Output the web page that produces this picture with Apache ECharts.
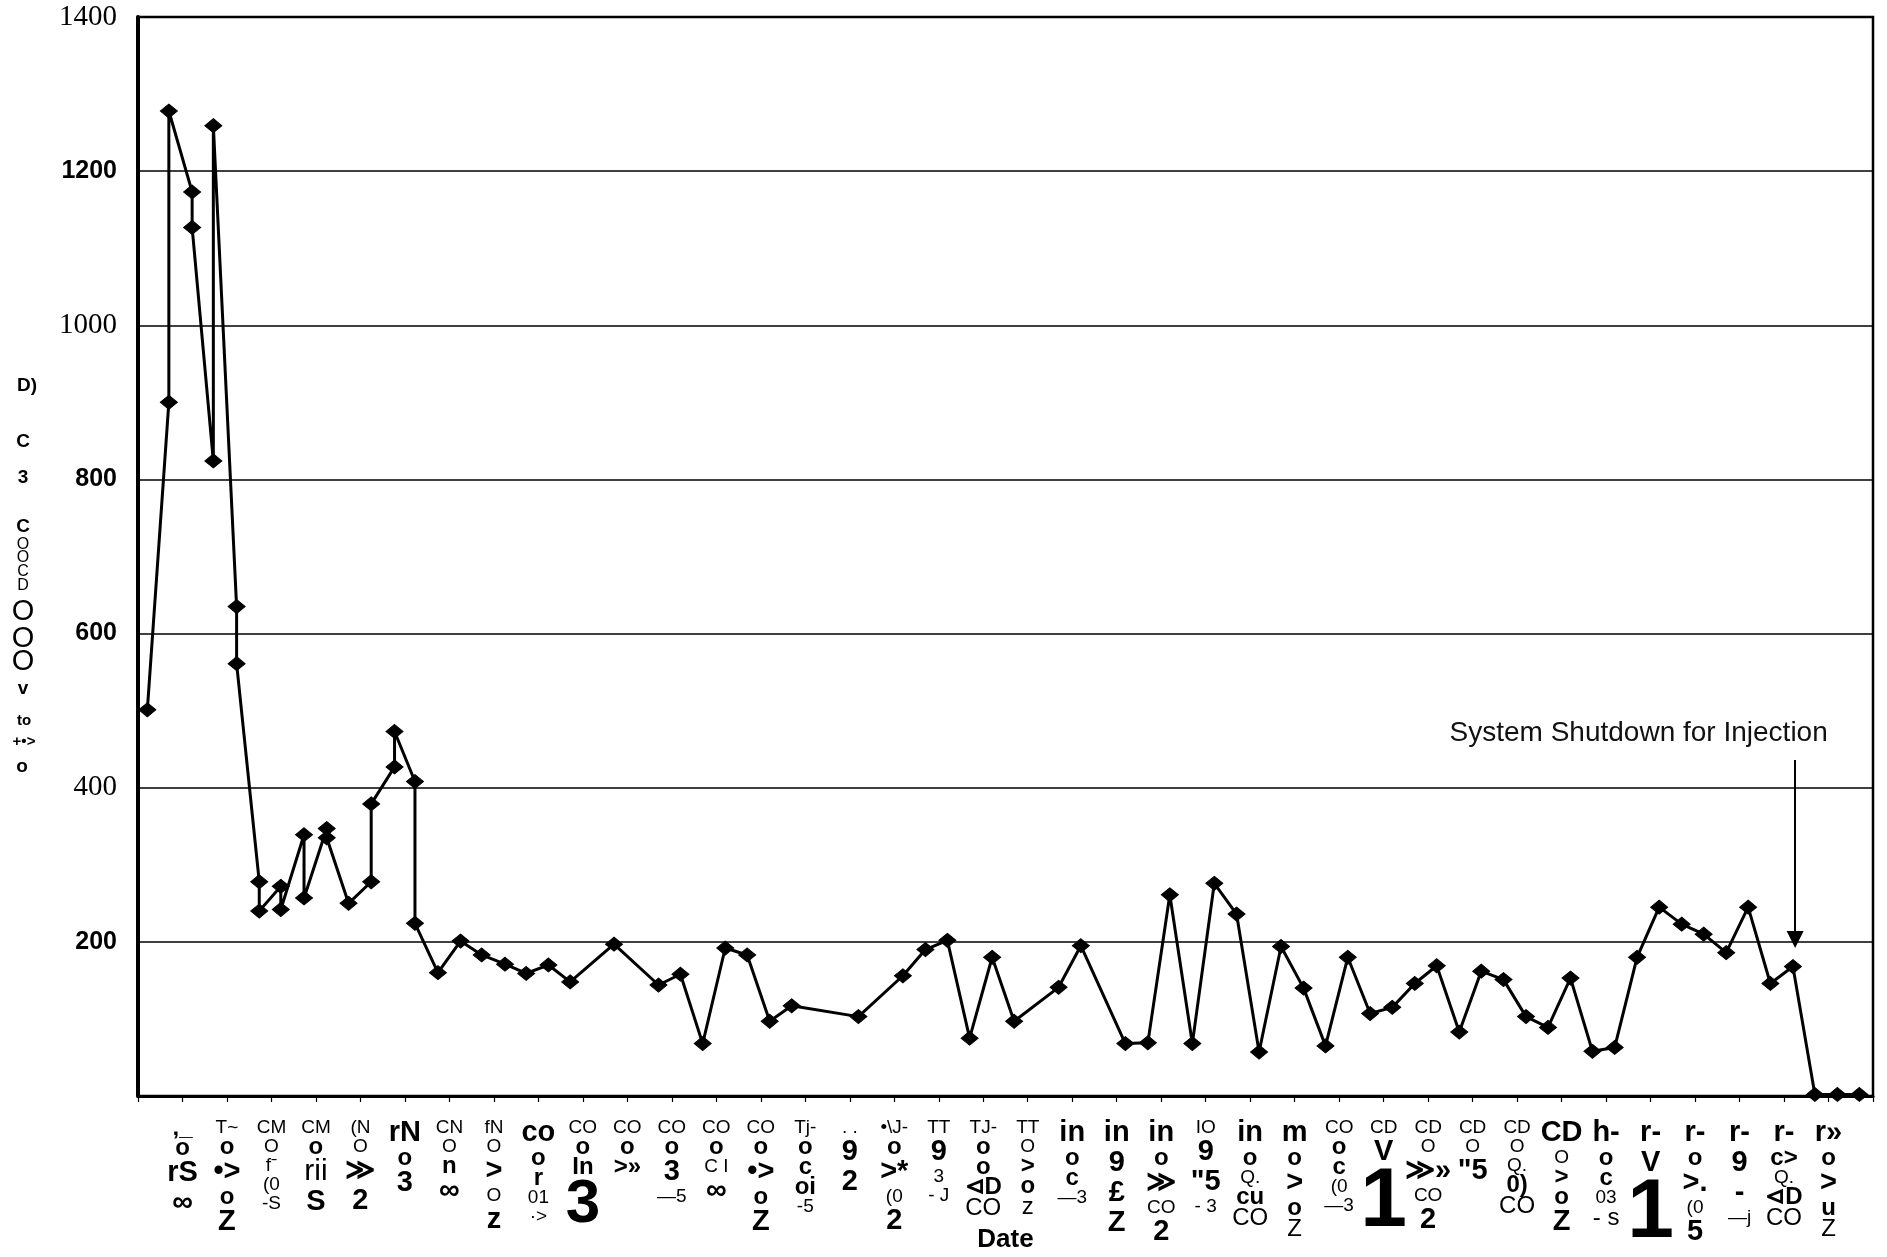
<!DOCTYPE html>
<html>
<head>
<meta charset="utf-8">
<script src="https://cdn.jsdelivr.net/npm/echarts@6/dist/echarts.min.js"></script>
<style>
  html, body { margin: 0; padding: 0; background: #fff; }
  #chart { width: 1887px; height: 1257px; }
</style>
</head>
<body>
<div id="chart"></div>
<script>
// Sampling dates (several dates were sampled twice) and measured concentrations
const sampleDates = [
  '2001-07-14', '2001-08-13', '2001-08-13', '2001-09-14', '2001-09-14',
  '2001-10-13', '2001-10-13', '2001-11-14', '2001-11-14', '2001-12-15',
  '2001-12-15', '2002-01-14', '2002-01-14', '2002-02-14', '2002-02-14',
  '2002-03-16', '2002-03-16', '2002-04-15', '2002-05-16', '2002-05-16',
  '2002-06-17', '2002-06-17', '2002-07-15', '2002-07-15', '2002-08-16',
  '2002-09-16', '2002-10-15', '2002-11-16', '2002-12-15', '2003-01-15',
  '2003-02-13', '2003-04-13', '2003-06-13', '2003-07-13', '2003-08-13',
  '2003-09-13', '2003-10-13', '2003-11-13', '2003-12-13', '2004-03-13',
  '2004-05-13', '2004-06-13', '2004-07-13', '2004-08-13', '2004-09-13',
  '2004-10-13', '2004-12-13', '2005-01-13', '2005-03-13', '2005-04-13',
  '2005-05-13', '2005-06-13', '2005-07-13', '2005-08-13', '2005-09-13',
  '2005-10-13', '2005-11-13', '2005-12-13', '2006-01-13', '2006-02-12',
  '2006-03-13', '2006-04-13', '2006-05-13', '2006-06-13', '2006-07-13',
  '2006-08-13', '2006-09-13', '2006-10-13', '2006-11-13', '2006-12-13',
  '2007-01-13', '2007-02-12', '2007-03-13', '2007-04-13', '2007-05-13',
  '2007-06-13', '2007-07-13', '2007-08-13', '2007-09-13', '2007-10-13',
  '2007-11-13', '2007-12-13'
];
const concentration = [
  501, 900, 1278, 1173, 1127,
  824, 1259, 635, 561, 278,
  240, 272, 242, 339, 257,
  347, 335, 250, 278, 379,
  427, 473, 408, 224, 160,
  201, 183, 171, 159, 170,
  148, 197, 144, 158, 68,
  192, 183, 97, 117, 103,
  156, 190, 202, 75, 180,
  97, 141, 195, 68, 69,
  261, 68, 276, 236, 57,
  194, 140, 65, 180, 107,
  115, 146, 169, 83, 162,
  151, 103, 89, 153, 58,
  63, 180, 245, 223, 210,
  186, 245, 146, 168, 2,
  2, 2
];

// Y axis ticks and the face each printed label uses
const yTickValues = [200, 400, 600, 800, 1000, 1200, 1400];
const yTickFaces  = ['sans', 'serif', 'sans', 'sans', 'serif', 'sans', 'serif'];

// X axis: months counted from Jul 2001, a tick every two months up to Jan 2008
const axisStartYear = 2001;
const axisStartMonth = 7;
const axisMonths = 78;
const tickStep = 2;

// Printed label stacks under the ticks (Sep-01 ... Nov-07), one [text, face] per line
const xTickLabels = [
  [[',_', 'b'], ['o', 'b'], ['rS', 'B'], ['\u221e', 'B']],
  [['T~', 's'], ['o', 'b'], ['\u2022>', 'B'], ['o', 'b'], ['Z', 'B']],
  [['CM', 's'], ['O', 's'], ['f\u02c9', 's'], ['(0', 's'], ['-S', 's']],
  [['CM', 's'], ['o', 'b'], ['rii', 'L'], ['S', 'B']],
  [['(N', 's'], ['O', 's'], ['\u226b', 'B'], ['2', 'B']],
  [['rN', 'B'], ['o', 'b'], ['3', 'B']],
  [['CN', 's'], ['O', 's'], ['n', 'b'], ['\u221e', 'B']],
  [['fN', 's'], ['O', 's'], ['>', 'B'], ['O', 's'], ['z', 'B']],
  [['co', 'B'], ['o', 'b'], ['r', 'b'], ['01', 's'], ['\u00b7>', 's']],
  [['CO', 's'], ['o', 'b'], ['In', 'b'], ['3', 'H']],
  [['CO', 's'], ['o', 'b'], ['>\u00bb', 'b']],
  [['CO', 's'], ['o', 'b'], ['3', 'B'], ['\u20145', 's']],
  [['CO', 's'], ['o', 'b'], ['C I', 's'], ['\u221e', 'B']],
  [['CO', 's'], ['o', 'b'], ['\u2022>', 'B'], ['o', 'b'], ['Z', 'B']],
  [['Tj-', 's'], ['o', 'b'], ['c', 'b'], ['oi', 'b'], ['-5', 's']],
  [['. .', 's'], ['9', 'B'], ['2', 'B']],
  [['\u2022\\J-', 's'], ['o', 'b'], ['>*', 'B'], ['(0', 's'], ['2', 'B']],
  [['TT', 's'], ['9', 'B'], ['3', 's'], ['- J', 's']],
  [['TJ-', 's'], ['o', 'b'], ['o', 'b'], ['\u22b2D', 'b'], ['CO', 'c']],
  [['TT', 's'], ['O', 's'], ['>', 'b'], ['o', 'b'], ['z', 'c']],
  [['in', 'B'], ['o', 'b'], ['c', 'b'], ['\u20143', 's']],
  [['in', 'B'], ['9', 'B'], ['\u00a3', 'B'], ['Z', 'B']],
  [['in', 'B'], ['o', 'b'], ['\u226b', 'B'], ['CO', 's'], ['2', 'B']],
  [['IO', 's'], ['9', 'B'], ['"5', 'B'], ['- 3', 's']],
  [['in', 'B'], ['o', 'b'], ['Q.', 's'], ['cu', 'b'], ['CO', 'c']],
  [['m', 'B'], ['o', 'b'], ['>', 'B'], ['o', 'b'], ['Z', 'c']],
  [['CO', 's'], ['o', 'b'], ['c', 'b'], ['(0', 's'], ['\u20143', 's']],
  [['CD', 's'], ['V', 'B'], ['1', 'X']],
  [['CD', 's'], ['O', 's'], ['\u226b\u00bb', 'B'], ['CO', 's'], ['2', 'B']],
  [['CD', 's'], ['O', 's'], ['"5', 'B']],
  [['CD', 's'], ['O', 's'], ['Q.', 's'], ['0)', 'b'], ['CO', 'c']],
  [['CD', 'B'], ['O', 's'], ['>', 'b'], ['o', 'b'], ['Z', 'B']],
  [['h-', 'B'], ['o', 'b'], ['c', 'b'], ['03', 's'], ['- s', 'c']],
  [['r-', 'B'], ['V', 'B'], ['1', 'X']],
  [['r-', 'B'], ['o', 'b'], ['>.', 'B'], ['(0', 's'], ['5', 'B']],
  [['r-', 'B'], ['9', 'B'], ['-', 'B'], ['\u2014j', 's']],
  [['r-', 'B'], ['c>', 'b'], ['Q.', 's'], ['\u22b2D', 'b'], ['CO', 'c']],
  [['r\u00bb', 'B'], ['o', 'b'], ['>', 'B'], ['u', 'b'], ['Z', 'c']]
];

// Stacked axis title printed beside the y axis: [text, face, x, y]
const yTitleParts = [
  ['D)', 'tb', 27, 386],
  ['C', 'tb', 23, 442],
  ['3', 'tb', 23, 478],
  ['C', 'tb', 23, 527],
  ['O', 'ts', 23, 545],
  ['O', 'ts', 23, 558],
  ['C', 'ts', 23, 572],
  ['D', 'ts', 23, 586],
  ['O', 'tl', 23, 612],
  ['O', 'tl', 23, 639],
  ['O', 'tl', 23, 662],
  ['v', 'tb', 23, 689],
  ['to', 'tm', 24, 721],
  ['+\u2022>', 'tm', 24, 742],
  ['o', 'tb', 22, 767]
];

// Annotation marking the injection shutdown
const shutdownNote = 'System Shutdown for Injection';
const shutdownDate = '2007-09-16';
const shutdownArrowFrom = 436;
const shutdownArrowTo = 203;
const noteAnchor = ['2007-02-14', 471];

function monthsFromStart(dateStr) {
  const [y, m, d] = dateStr.split('-').map(Number);
  const daysInMonth = new Date(y, m, 0).getDate();
  return (y - axisStartYear) * 12 + (m - axisStartMonth) + (d - 1) / daysInMonth;
}

const seriesData = sampleDates.map((d, i) => [monthsFromStart(d), concentration[i]]);

const SANS = '"Liberation Sans", Arial, Helvetica, sans-serif';
const SERIF = '"Liberation Serif", "Times New Roman", serif';

const xRich = {
  s: { fontFamily: SANS, fontSize: 19, fontWeight: 'normal', lineHeight: 19, color: '#000' },
  c: { fontFamily: SANS, fontSize: 24, fontWeight: 'normal', lineHeight: 22, color: '#000' },
  b: { fontFamily: SANS, fontSize: 24, fontWeight: 'bold', lineHeight: 20, color: '#000' },
  B: { fontFamily: SANS, fontSize: 29, fontWeight: 'bold', lineHeight: 30, color: '#000' },
  L: { fontFamily: SANS, fontSize: 30, fontWeight: 'normal', lineHeight: 30, color: '#000' },
  H: { fontFamily: SANS, fontSize: 62, fontWeight: 'bold', lineHeight: 56, color: '#000' },
  X: { fontFamily: SANS, fontSize: 84, fontWeight: 'bold', lineHeight: 72, color: '#000' }
};

const yFaceStyle = {
  sans:  { fontFamily: SANS, fontSize: 25, fontWeight: 'bold', color: '#000' },
  serif: { fontFamily: SERIF, fontSize: 29, fontWeight: 'normal', color: '#000' }
};

const titleFace = {
  tb: { fontFamily: SANS, fontSize: 19, fontWeight: 'bold' },
  tm: { fontFamily: SANS, fontSize: 15, fontWeight: 'bold' },
  ts: { fontFamily: SANS, fontSize: 16, fontWeight: 'normal' },
  tl: { fontFamily: SANS, fontSize: 29, fontWeight: 'normal' }
};

const chart = echarts.init(document.getElementById('chart'), null, { renderer: 'canvas' });

chart.setOption({
  backgroundColor: '#fff',
  animation: false,
  grid: {
    left: 138, right: 14, top: 17, bottom: 161,
    show: true, borderColor: '#000', borderWidth: 2.5,
    containLabel: false,
    outerBoundsMode: 'none'
  },
  xAxis: {
    type: 'value',
    min: 0,
    max: axisMonths,
    interval: tickStep,
    name: 'Date',
    nameLocation: 'middle',
    nameGap: 131,
    nameMoveOverlap: false,
    nameTextStyle: { fontFamily: SANS, fontSize: 26, fontWeight: 'bold', color: '#000' },
    axisLine: { show: true, onZero: false, lineStyle: { color: '#000', width: 3 } },
    axisTick: { show: true, inside: false, length: 6, lineStyle: { color: '#000', width: 1.2 } },
    splitLine: { show: false },
    axisLabel: {
      show: true,
      margin: 22,
      verticalAlign: 'top',
      align: 'center',
      rich: xRich,
      formatter: function (v) {
        const idx = Math.round(v / tickStep) - 1;
        const stack = xTickLabels[idx];
        if (!stack) return '';
        return stack.map(([t, f]) => '{' + f + '|' + t + '}').join('\n');
      }
    }
  },
  yAxis: {
    type: 'value',
    min: 0,
    max: 1400,
    interval: 200,
    axisLine: { show: true, lineStyle: { color: '#000', width: 4 } },
    axisTick: { show: false },
    splitLine: { show: true, lineStyle: { color: '#000', width: 1.5 } },
    axisLabel: {
      margin: 21,
      rich: yFaceStyle,
      formatter: function (v) {
        const i = yTickValues.indexOf(v);
        if (i < 0) return '';
        return '{' + yTickFaces[i] + '|' + v + '}';
      }
    }
  },
  graphic: yTitleParts.map(([t, f, x, y]) => ({
    type: 'text',
    x: x, y: y,
    style: Object.assign({
      text: t, fill: '#000', align: 'center', verticalAlign: 'middle'
    }, titleFace[f])
  })),
  series: [{
    type: 'line',
    data: seriesData,
    symbol: 'diamond',
    symbolSize: [17, 14],
    showAllSymbol: true,
    clip: false,
    lineStyle: { color: '#000', width: 3 },
    itemStyle: { color: '#000', borderColor: '#000', borderWidth: 1 },
    emphasis: { disabled: true },
    markLine: {
      silent: true,
      animation: false,
      label: { show: false },
      lineStyle: { color: '#000', width: 2, type: 'solid' },
      data: [[
        { coord: [monthsFromStart(shutdownDate), shutdownArrowFrom], symbol: 'none' },
        { coord: [monthsFromStart(shutdownDate), shutdownArrowTo], symbol: 'triangle', symbolSize: [17, 17] }
      ]]
    },
    markPoint: {
      silent: true,
      animation: false,
      symbol: 'circle',
      symbolSize: 0,
      data: [{
        coord: [monthsFromStart(noteAnchor[0]), noteAnchor[1]],
        label: {
          show: true,
          position: 'inside',
          formatter: shutdownNote,
          fontFamily: SANS,
          fontSize: 28,
          fontWeight: 'normal',
          color: '#111'
        }
      }]
    }
  }]
});
</script>
</body>
</html>
